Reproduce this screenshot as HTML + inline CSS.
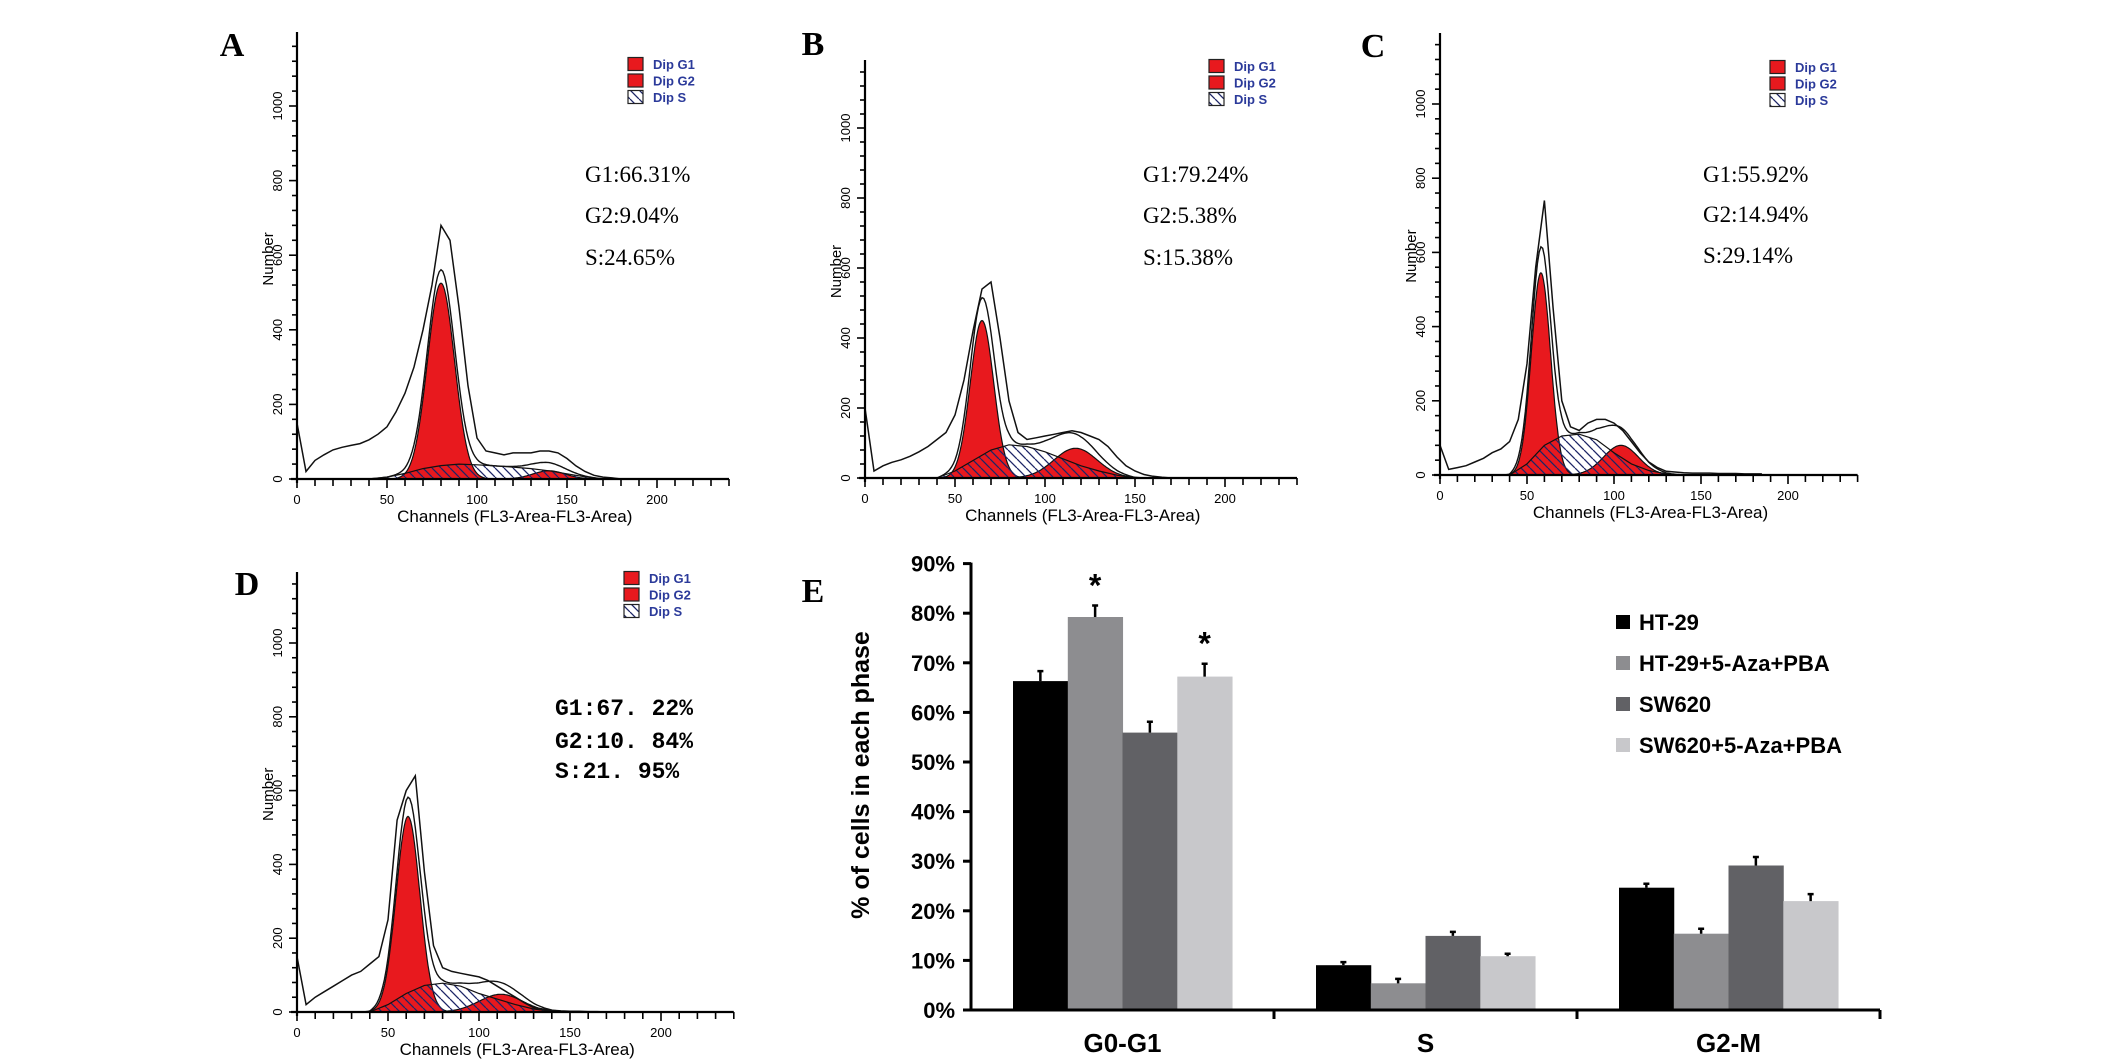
<!DOCTYPE html>
<html><head><meta charset="utf-8"><title>Cell cycle figure</title>
<style>
html,body{margin:0;padding:0;background:#fff;}
svg{display:block;}
text{font-family:"Liberation Sans",Arial,sans-serif;}
.ser{font-family:"Liberation Serif","Times New Roman",serif;}
.mono{font-family:"Liberation Mono","Courier New",monospace;}
</style></head>
<body>
<svg id="fig" xmlns="http://www.w3.org/2000/svg" width="2126" height="1060" viewBox="0 0 2126 1060">
<defs>
<pattern id="hatch" patternUnits="userSpaceOnUse" width="9" height="9">
<line x1="0" y1="0" x2="9" y2="9" stroke="#1c2466" stroke-width="1.3"/>
<line x1="-9" y1="0" x2="0" y2="9" stroke="#1c2466" stroke-width="1.3"/>
<line x1="9" y1="0" x2="18" y2="9" stroke="#1c2466" stroke-width="1.3"/>
</pattern>
</defs>
<g id="root"></g>
</svg>
<script>
// ---------- Histogram data ----------
// envelope (raw histogram) every 5 channels starting at channel 0
const envA = [150,20,50,65,78,85,90,95,105,120,140,180,230,300,400,520,680,640,460,250,110,75,70,65,70,70,70,75,75,70,55,35,20,10,5,3,0,0];
const envB = [200,20,35,45,52,62,75,90,110,130,180,280,420,540,560,400,220,130,110,115,120,125,130,135,130,120,110,90,60,35,20,10,5,2,0,0,0,0];
const envC = [80,15,20,25,35,45,60,70,90,150,300,560,740,450,200,130,120,140,150,150,140,120,90,60,35,20,10,8,6,5,5,5,4,4,4,3,3,3];
const envD = [150,20,40,55,70,85,100,110,130,150,250,520,600,640,380,180,120,110,105,100,95,85,70,55,40,25,12,8,5,3,2,2,1,1,0,0,0,0];
// S-phase component every 10 channels starting at channel 40
const sA = [0,5,15,28,36,40,38,35,32,28,22,14,6,0];
const sB = [0,20,50,80,95,90,75,55,35,20,8,0,0,0];
const sC = [0,30,80,105,110,95,60,30,12,3,0,0,0,0];
const sD = [0,20,50,72,78,70,50,35,20,8,2,0,0,0];
// G1 / G2 peaks: [mean channel, height, sd]
const g1A = [80,525,7.5], g2A = [140,22,9];
const g1B = [65,450,6.5], g2B = [117,85,12];
const g1C = [58,545,5.5], g2C = [104,80,10];
const g1D = [61,530,6.5], g2D = [112,48,12];
// Printed percentages
const statsA = ["G1:66.31%","G2:9.04%","S:24.65%"];
const statsB = ["G1:79.24%","G2:5.38%","S:15.38%"];
const statsC = ["G1:55.92%","G2:14.94%","S:29.14%"];
const statsD = ["G1:67. 22%","G2:10. 84%","S:21. 95%"];
const xTickLabels = [0,50,100,150,200];
const yTickLabels = [0,200,400,600,800,1000];

// ---------- Bar chart data ----------
const phases = ["G0-G1","S","G2-M"];
const seriesNames = ["HT-29","HT-29+5-Aza+PBA","SW620","SW620+5-Aza+PBA"];
const ht29 =     [66.31, 9.04, 24.65];
const ht29Aza =  [79.24, 5.38, 15.38];
const sw620 =    [55.92, 14.94, 29.14];
const sw620Aza = [67.22, 10.84, 21.95];
const errHt29 =     [2.0, 0.6, 0.8];
const errHt29Aza =  [2.3, 0.9, 1.0];
const errSw620 =    [2.2, 0.8, 1.7];
const errSw620Aza = [2.6, 0.5, 1.4];
const sigHt29Aza =  [true,false,false];
const sigSw620Aza = [true,false,false];
const pctTicks = [0,10,20,30,40,50,60,70,80,90];

const NS = "http://www.w3.org/2000/svg";
const root = document.getElementById("root");
function mk(tag, attrs, parent, txt){
  const e = document.createElementNS(NS, tag);
  for (const k in attrs) e.setAttribute(k, attrs[k]);
  if (txt !== undefined) e.textContent = txt;
  (parent||root).appendChild(e);
  return e;
}
function gauss(p, ch){ const d=(ch-p[0])/p[2]; return p[1]*Math.exp(-0.5*d*d); }
function sAt(arr, ch){
  const t=(ch-40)/10; if (t<=0||t>=arr.length-1) return 0;
  const i=Math.floor(t), f=t-i; return arr[i]*(1-f)+arr[i+1]*f;
}

function histPanel(cfg, env, sArr, g1, g2, stats, letter){
  const g = mk("g", {});
  
  
  const X = ch => cfg.ax + ch*cfg.pxc;
  const Y = v => cfg.y0 - v*cfg.pyu;
  // G1 filled
  let d = "M"+X(g1[0]-4*g1[2])+","+Y(0);
  for (let c=g1[0]-4*g1[2]; c<=g1[0]+4*g1[2]; c+=0.5) d += " L"+X(c).toFixed(1)+","+Y(gauss(g1,c)).toFixed(1);
  d += " L"+X(g1[0]+4*g1[2])+","+Y(0)+" Z";
  const p1 = mk("path", {d:d, fill:"#e8191e", stroke:"#111", "stroke-width":1.2}, g);
  
  
  // G2 filled
  d = "M"+X(g2[0]-4*g2[2])+","+Y(0);
  for (let c=g2[0]-4*g2[2]; c<=g2[0]+4*g2[2]; c+=0.5) d += " L"+X(c).toFixed(1)+","+Y(gauss(g2,c)).toFixed(1);
  d += " L"+X(g2[0]+4*g2[2])+","+Y(0)+" Z";
  const p2 = mk("path", {d:d, fill:"#e8191e", stroke:"#111", "stroke-width":1.2}, g);
  
  
  // S hatched
  d = "M"+X(40)+","+Y(0);
  for (let i=0;i<sArr.length;i++) d += " L"+X(40+i*10)+","+Y(sArr[i]).toFixed(1);
  d += " L"+X(40+(sArr.length-1)*10)+","+Y(0)+" Z";
  const ps = mk("path", {d:d, fill:"url(#hatch)", stroke:"#111", "stroke-width":1.2}, g);
  
  
  // fit sum line
  d = "";
  for (let c=30;c<=185;c+=1){ const v=gauss(g1,c)+gauss(g2,c)+sAt(sArr,c); d += (d?" L":"M")+X(c).toFixed(1)+","+Y(v).toFixed(1); }
  const pf = mk("path", {d:d, fill:"none", stroke:"#111", "stroke-width":1.4}, g);
  
  
  // raw envelope
  d = "";
  env.forEach((v,i)=>{ d += (i?" L":"M")+X(i*5).toFixed(1)+","+Y(v).toFixed(1); });
  const pe = mk("path", {d:d, fill:"none", stroke:"#111", "stroke-width":1.5}, g);
  
  
  // axes
  const ya = mk("line", {x1:cfg.ax, y1:cfg.top, x2:cfg.ax, y2:cfg.y0+4, stroke:"#000", "stroke-width":2.2}, g);
  
  
  const xa = mk("line", {x1:cfg.ax-6, y1:cfg.y0, x2:X(240), y2:cfg.y0, stroke:"#000", "stroke-width":2.2}, g);
  
  
  for (let v=0; Y(v)>=cfg.top; v+=40){
    const major = v%200===0;
    mk("line", {x1:cfg.ax-(major?8:5), y1:Y(v), x2:cfg.ax, y2:Y(v), stroke:"#000", "stroke-width":1.6}, g);
  }
  yTickLabels.forEach(v=>{
    const t = mk("text", {x:0, y:0, "font-size":13, "text-anchor":"middle", transform:"translate("+(cfg.ax-15)+","+Y(v)+") rotate(-90)"}, g, String(v));
    
    
  });
  for (let c=0;c<=240;c+=10) mk("line", {x1:X(c), y1:cfg.y0, x2:X(c), y2:cfg.y0+(c%50===0?9:7), stroke:"#000", "stroke-width":1.6}, g);
  xTickLabels.forEach(c=>{
    const t = mk("text", {x:X(c), y:cfg.y0+25, "font-size":13, "text-anchor":"middle"}, g, String(c));
    
    
  });
  const xt = mk("text", {x:X(121), y:cfg.y0+43, "font-size":17, "text-anchor":"middle"}, g, "Channels (FL3-Area-FL3-Area)");
  
  
  const yt = mk("text", {x:0, y:0, "font-size":15, "text-anchor":"middle", transform:"translate("+(cfg.ax-24)+","+Y(590)+") rotate(-90)"}, g, "Number");
  
  
  // letter
  const L = mk("text", {x:cfg.lx, y:cfg.ly, "font-size":34, "font-weight":"bold", "text-anchor":"middle", class:"ser"}, g, letter);
  
  
  // legend
  const names = ["Dip G1","Dip G2","Dip S"];
  names.forEach((n,i)=>{
    const ry = cfg.legY + i*16.5;
    const sq = mk("rect", {x:cfg.legX, y:ry-6.5, width:15, height:13, fill:i<2?"#e8191e":"url(#hatch)", stroke:"#222", "stroke-width":1.2}, g);
    
    
    const t = mk("text", {x:cfg.legX+25, y:ry+5, "font-size":13, "font-weight":"bold", fill:"#2b3a9a"}, g, n);
    
    
  });
  // stats
  stats.forEach((s,i)=>{
    const t = mk("text", {x:cfg.sx, y:cfg.sy[i], "font-size":cfg.mono?23:23, "font-weight":cfg.mono?"bold":"normal", class:cfg.mono?"mono":"ser"}, g, s);
    
    
  });
}

histPanel({ax:297,y0:479,pyu:0.373,pxc:1.8,top:32,lx:232,ly:56,legX:628,legY:64,sx:585,sy:[182,223,265]}, envA, sA, g1A, g2A, statsA, "A");
histPanel({ax:865,y0:478,pyu:0.35,pxc:1.8,top:60,lx:813,ly:55,legX:1209,legY:66,sx:1143,sy:[182,223,265]}, envB, sB, g1B, g2B, statsB, "B");
histPanel({ax:1440,y0:475,pyu:0.371,pxc:1.74,top:33,lx:1373,ly:57,legX:1770,legY:67,sx:1703,sy:[182,222,263]}, envC, sC, g1C, g2C, statsC, "C");
histPanel({ax:297,y0:1012,pyu:0.369,pxc:1.82,top:572,lx:247,ly:595,legX:624,legY:578,sx:555,sy:[715,748,778],mono:true}, envD, sD, g1D, g2D, statsD, "D");

// ---------- Panel E bar chart ----------
(function(){
  const g = mk("g", {});
  
  
  const ax=971, y0=1010, per10=49.6, groupW=303, barW=54.75;
  const Y = v => y0 - v/10*per10;
  const gc = i => ax + groupW*(i+0.5);
  const series=[ht29,ht29Aza,sw620,sw620Aza];
  const errs=[errHt29,errHt29Aza,errSw620,errSw620Aza];
  const colors=["#000000","#8d8d90","#616165","#c8c8cb"];
  const sigs=[null,sigHt29Aza,null,sigSw620Aza];
  phases.forEach((ph,i)=>{
    series.forEach((s,j)=>{
      const x = gc(i) - 2*barW + j*barW;
      const r = mk("rect", {x:x.toFixed(1), y:Y(s[i]).toFixed(1), width:barW+0.5, height:(y0-Y(s[i])).toFixed(1), fill:colors[j]}, g);
      
      
      const cx = x + barW/2, top = Y(s[i]+errs[j][i]);
      const e = mk("path", {d:"M"+cx+","+Y(s[i])+" L"+cx+","+top+" M"+(cx-3)+","+top+" L"+(cx+3)+","+top, stroke:"#000", "stroke-width":2.5, fill:"none"}, g);
      
      
      if (sigs[j] && sigs[j][i]){
        const a = mk("text", {x:cx, y:top-9, "font-size":32, "font-weight":"bold", "text-anchor":"middle"}, g, "*");
        
        
      }
    });
    const t = mk("text", {x:gc(i), y:1052, "font-size":26, "font-weight":"bold", "text-anchor":"middle"}, g, ph);
    
    
  });
  const ya = mk("line", {x1:ax, y1:Y(90)-1, x2:ax, y2:y0+1.5, stroke:"#000", "stroke-width":3}, g);
  
  
  const xa = mk("line", {x1:ax-8, y1:y0, x2:ax+groupW*3, y2:y0, stroke:"#000", "stroke-width":3}, g);
  
  
  for (let k=1;k<=3;k++) mk("line", {x1:ax+groupW*k, y1:y0, x2:ax+groupW*k, y2:y0+9, stroke:"#000", "stroke-width":3}, g);
  pctTicks.forEach(v=>{
    mk("line", {x1:ax-8, y1:Y(v), x2:ax, y2:Y(v), stroke:"#000", "stroke-width":3}, g);
    const t = mk("text", {x:955, y:Y(v)+8, "font-size":22, "font-weight":"bold", "text-anchor":"end"}, g, v+"%");
    
    
  });
  const yt = mk("text", {x:0, y:0, "font-size":25, "font-weight":"bold", "text-anchor":"middle", transform:"translate(869,775) rotate(-90)"}, g, "% of cells in each phase");
  
  
  const L = mk("text", {x:813, y:602, "font-size":34, "font-weight":"bold", "text-anchor":"middle", class:"ser"}, g, "E");
  
  
  seriesNames.forEach((n,j)=>{
    const cy = 622 + j*41;
    const sq = mk("rect", {x:1616, y:cy-7, width:14, height:14, fill:colors[j]}, g);
    
    
    const t = mk("text", {x:1639, y:cy+8, "font-size":22, "font-weight":"bold"}, g, n);
    
    
  });
})();
</script>
</body></html>
